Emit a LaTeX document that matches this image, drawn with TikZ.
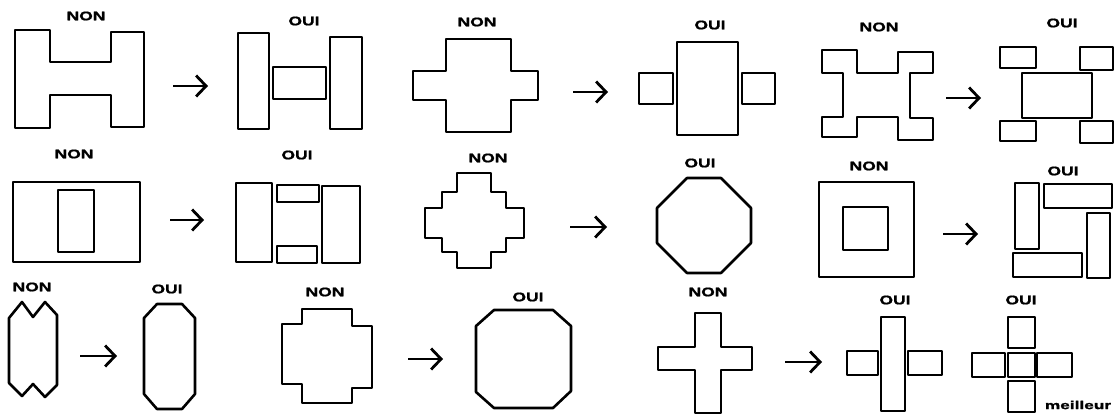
\documentclass[tikz,border=0pt]{standalone}
\usepackage{fontspec}
\usepackage{graphicx}
\setmainfont{Liberation Sans}
\newfontfamily\lblfont[FakeBold=1.2]{Liberation Sans Bold}
\usetikzlibrary{arrows.meta}
\newcommand\widetxt[1]{\scalebox{1.4}[1]{#1}}
\begin{document}
\begin{tikzpicture}[x=1pt,y=-1pt,
  shp/.style={draw=black,line width=2.6pt,line join=round},
  arr/.style={line width=2.8pt,-{Straight Barb[length=10pt,width=21pt,line width=2.8pt]}},
  lbl/.style={font=\lblfont\fontsize{12.5}{12.5}\selectfont,inner sep=0pt}]
\useasboundingbox (0,0) rectangle (1117,416);

% ---------- labels ----------
\node[lbl] (l11) at (86,16)  {\widetxt{NON}};
\node[lbl] (l12) at (304,21) {\widetxt{OUI}};
\node[lbl] (l13) at (477,22) {\widetxt{NON}};
\node[lbl] (l14) at (710,25) {\widetxt{OUI}};
\node[lbl] (l15) at (879,27) {\widetxt{NON}};
\node[lbl] (l16) at (1062,23) {\widetxt{OUI}};
\node[lbl] (l21) at (74,154)  {\widetxt{NON}};
\node[lbl] (l22) at (297,155) {\widetxt{OUI}};
\node[lbl] (l23) at (488,158) {\widetxt{NON}};
\node[lbl] (l24) at (700,163) {\widetxt{OUI}};
\node[lbl] (l25) at (869,166) {\widetxt{NON}};
\node[lbl] (l26) at (1063,171) {\widetxt{OUI}};
\node[lbl] (l31) at (32,287)  {\widetxt{NON}};
\node[lbl] (l32) at (167,289) {\widetxt{OUI}};
\node[lbl] (l33) at (325,292) {\widetxt{NON}};
\node[lbl] (l34) at (528,297) {\widetxt{OUI}};
\node[lbl] (l35) at (708,292) {\widetxt{NON}};
\node[lbl] (l36) at (895,300) {\widetxt{OUI}};
\node[lbl] (l37) at (1021,300) {\widetxt{OUI}};
\node[lbl,font=\lblfont\fontsize{11.5}{11.5}\selectfont] (l38) at (1078,405) {\scalebox{1.5}[1]{meilleur}};

% ---------- arrow end points ----------
\coordinate (a1s) at (173,86);  \coordinate (a1e) at (208,86);
\coordinate (a2s) at (573,92);  \coordinate (a2e) at (608,92);
\coordinate (a3s) at (946,98);  \coordinate (a3e) at (981,98);
\coordinate (a4s) at (170,220); \coordinate (a4e) at (204,220);
\coordinate (a5s) at (570,227); \coordinate (a5e) at (607,227);
\coordinate (a6s) at (943,234); \coordinate (a6e) at (978,234);
\coordinate (a7s) at (80,356);  \coordinate (a7e) at (117,356);
\coordinate (a8s) at (408,359); \coordinate (a8e) at (443,359);
\coordinate (a9s) at (785,362); \coordinate (a9e) at (822,362);
\foreach \i in {1,...,9} {\draw[arr] (a\i s) -- (a\i e);}

% ---------- row 1 ----------
\draw[shp] (15,30)--(50,30)--(50,62)--(111,62)--(111,32)--(144,32)--(144,127)--(111,127)--(111,95)--(50,95)--(50,128)--(15,128)--cycle;
\draw[shp] (238,33) rectangle (269,129);
\draw[shp] (273,67) rectangle (326,99);
\draw[shp] (330,37) rectangle (362,129);

\draw[shp] (446,39)--(511,39)--(511,71)--(538,71)--(538,100)--(511,100)--(511,132)--(446,132)--(446,100)--(413,100)--(413,71)--(446,71)--cycle;
\draw[shp] (639,73) rectangle (673,104);
\draw[shp] (677,42) rectangle (738,135);
\draw[shp] (742,73) rectangle (775,104);

\draw[shp] (822,50)--(857,50)--(857,73)--(898,73)--(898,52)--(933,52)--(933,73)--(910,73)--(910,118)--(933,118)--(933,140)--(898,140)--(898,117)--(857,117)--(857,137)--(822,137)--(822,117)--(843,117)--(843,73)--(822,73)--cycle;
\draw[shp] (1000,47) rectangle (1036,68);
\draw[shp] (1080,47) rectangle (1113,70);
\draw[shp] (1022,73) rectangle (1092,118);
\draw[shp] (1000,121) rectangle (1036,141);
\draw[shp] (1080,121) rectangle (1113,143);

% ---------- row 2 ----------
\draw[shp] (13,182) rectangle (140,262);
\draw[shp] (58,190) rectangle (94,252);
\draw[shp] (236,183) rectangle (272,262);
\draw[shp] (322,186) rectangle (360,263);
\draw[shp] (277,185) rectangle (319,202);
\draw[shp] (277,246) rectangle (317,263);

\draw[shp] (457,173)--(491,173)--(491,192)--(506,192)--(506,208)--(524,208)--(524,238)--(506,238)--(506,252)--(491,252)--(491,268)--(457,268)--(457,252)--(442,252)--(442,238)--(425,238)--(425,208)--(442,208)--(442,192)--(457,192)--cycle;
\draw[shp] (687,178)--(721,178)--(751,208)--(751,243)--(721,273)--(687,273)--(657,243)--(657,208)--cycle;

\draw[shp] (819,182) rectangle (914,277);
\draw[shp] (843,207) rectangle (888,250);
\draw[shp] (1015,183) rectangle (1039,249);
\draw[shp] (1044,184) rectangle (1112,208);
\draw[shp] (1087,213) rectangle (1110,278);
\draw[shp] (1013,253) rectangle (1082,277);

% ---------- row 3 ----------
\draw[shp] (9,318)--(22,302)--(33,317)--(45,302)--(57,315)--(57,385)--(45,397)--(33,384)--(22,396)--(9,383)--cycle;
\draw[shp] (157,304)--(182,304)--(195,318)--(195,394)--(182,409)--(157,409)--(144,394)--(144,318)--cycle;

\draw[shp] (302,309)--(352,309)--(352,326)--(372,326)--(372,388)--(352,388)--(352,403)--(302,403)--(302,384)--(282,384)--(282,324)--(302,324)--cycle;
\draw[shp] (494,310)--(553,310)--(571,326)--(571,391)--(553,408)--(494,408)--(476,392)--(476,326)--cycle;

\draw[shp] (695,313)--(721,313)--(721,347)--(752,347)--(752,370)--(721,370)--(721,413)--(695,413)--(695,370)--(658,370)--(658,347)--(695,347)--cycle;
\draw[shp] (881,317) rectangle (905,411);
\draw[shp] (847,351) rectangle (878,375);
\draw[shp] (908,351) rectangle (942,375);

\draw[shp] (1008,317) rectangle (1035,348);
\draw[shp] (1008,353) rectangle (1035,377);
\draw[shp] (972,353) rectangle (1005,377);
\draw[shp] (1037,353) rectangle (1072,377);
\draw[shp] (1008,381) rectangle (1035,412);
\end{tikzpicture}
\end{document}
